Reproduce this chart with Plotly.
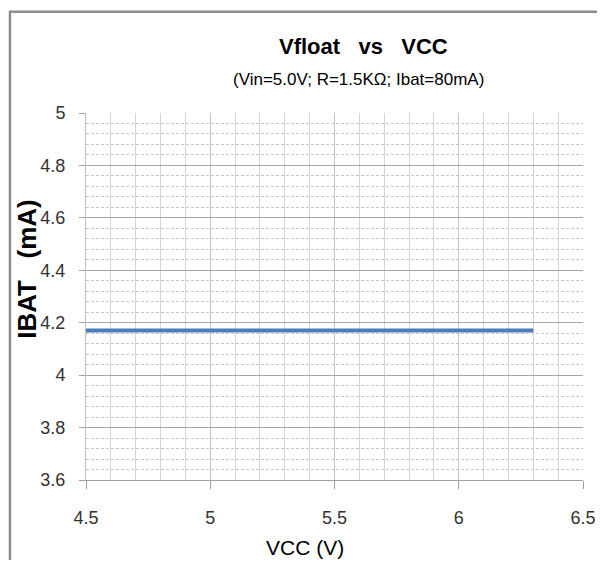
import plotly.graph_objects as go

vcc = [4.5, 5.0, 5.5, 6.0, 6.3]
ibat = [4.17, 4.17, 4.17, 4.17, 4.17]
x_ticks = [4.5, 5, 5.5, 6, 6.5]
x_tick_labels = ["4.5", "5", "5.5", "6", "6.5"]
y_ticks = [3.6, 3.8, 4.0, 4.2, 4.4, 4.6, 4.8, 5.0]
y_tick_labels = ["3.6", "3.8", "4", "4.2", "4.4", "4.6", "4.8", "5"]

SANS = "Liberation Sans, Arial, sans-serif"

fig = go.Figure()
fig.add_trace(go.Scatter(x=vcc, y=ibat, mode="lines",
                         line=dict(color="#4a7ebb", width=4), showlegend=False))

fig.update_layout(
    width=597, height=552,
    margin=dict(l=78, r=22, t=105, b=80, autoexpand=False),
    paper_bgcolor="white", plot_bgcolor="white",
    font=dict(family=SANS, color="#333333"),
    xaxis=dict(
        range=[4.5, 6.5], tickvals=x_ticks, ticktext=x_tick_labels,
        showgrid=True, gridcolor="#c4c4c4", gridwidth=1,
        minor=dict(dtick=0.1, showgrid=True, gridcolor="#d4d4d4", gridwidth=1),
        ticks="outside", ticklen=8, tickcolor="#a0a0a0",
        tickfont=dict(size=18, family=SANS, color="#333333"),
        ticklabelstandoff=13, automargin=False, ticklabeloverflow="allow",
        showline=True, linecolor="#a0a0a0", linewidth=1,
        zeroline=False,
    ),
    yaxis=dict(
        range=[3.6, 5.0], tickvals=y_ticks, ticktext=y_tick_labels,
        showgrid=True, gridcolor="#a6a6a6", gridwidth=1,
        minor=dict(dtick=0.04, showgrid=True, gridcolor="#c8c8c8", gridwidth=1, griddash="3px,2px"),
        ticks="outside", ticklen=6, tickcolor="#a0a0a0",
        tickfont=dict(size=18, family=SANS, color="#333333"),
        ticklabelstandoff=10, automargin=False,
        showline=True, linecolor="#c0c0c0", linewidth=1,
        zeroline=False,
    ),
    annotations=[
        dict(text="<b>Vfloat   vs   VCC</b>", xref="paper", yref="paper",
             x=0.558, y=1.18, xanchor="center", yanchor="middle", showarrow=False,
             font=dict(size=22, family=SANS, color="#000000")),
        dict(text="(Vin=5.0V; R=1.5KΩ; Ibat=80mA)", xref="paper", yref="paper",
             x=0.548, y=1.09, xanchor="center", yanchor="middle", showarrow=False,
             font=dict(size=17, family=SANS, color="#000000")),
        dict(text="VCC (V)", xref="paper", yref="paper",
             x=0.441, y=-0.185, xanchor="center", yanchor="middle", showarrow=False,
             font=dict(size=21, family=SANS, color="#000000")),
        dict(text="<b>IBAT   (mA)</b>", xref="paper", yref="paper",
             x=-0.119, y=0.575, xanchor="center", yanchor="middle", showarrow=False,
             textangle=-90,
             font=dict(size=26, family=SANS, color="#000000")),
    ],
    shapes=[
        dict(type="rect", xref="paper", yref="paper",
             x0=-0.153, x1=1.3, y0=-0.5, y1=1.276,
             line=dict(color="#8c8c8c", width=2.5), fillcolor="rgba(0,0,0,0)", layer="below"),
    ],
)

fig.write_html("out.html")
